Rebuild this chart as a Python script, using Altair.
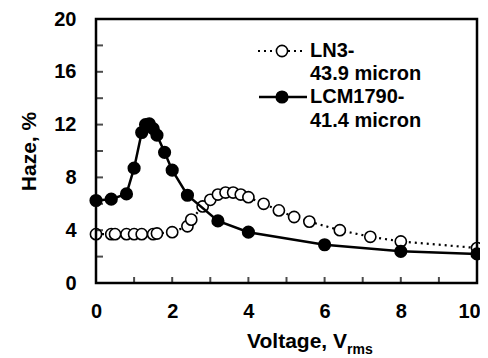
import altair as alt
import pandas as pd

# LN3 - 43.9 micron (open circles, dotted line)
ln3_v = [0, 0.4, 0.5, 0.8, 1.0, 1.2, 1.5, 1.6, 2.0, 2.4, 2.5, 2.8, 3.0, 3.2, 3.4,
         3.6, 3.8, 4.0, 4.4, 4.8, 5.2, 5.6, 6.4, 7.2, 8.0, 10.0]
ln3_h = [3.7, 3.7, 3.7, 3.7, 3.7, 3.7, 3.7, 3.75, 3.85, 4.3, 4.8, 5.8, 6.3, 6.7, 6.85,
         6.85, 6.7, 6.5, 6.0, 5.5, 5.0, 4.65, 4.0, 3.5, 3.15, 2.65]
# LCM1790 - 41.4 micron (filled circles, solid line)
lcm_v = [0, 0.4, 0.8, 1.0, 1.2, 1.3, 1.4, 1.5, 1.6, 1.8, 2.0, 2.4, 3.2, 4.0, 6.0, 8.0, 10.0]
lcm_h = [6.25, 6.35, 6.75, 8.7, 11.4, 12.0, 12.05, 11.7, 11.2, 9.9, 8.55, 6.65, 4.7, 3.85,
         2.9, 2.4, 2.2]

x_ticks = [0, 1, 2, 3, 4, 5, 6, 7, 8, 9, 10]
x_labels = [0, 2, 4, 6, 8, 10]
y_ticks = [0, 2, 4, 6, 8, 10, 12, 14, 16, 18, 20]
y_labels = [0, 4, 8, 12, 16, 20]
legend_labels = ["LN3-", "43.9 micron", "LCM1790-", "41.4 micron"]

W, H = 381, 264
FONT = "Liberation Sans"

ln3 = pd.DataFrame({"v": ln3_v, "h": ln3_h})
lcm = pd.DataFrame({"v": lcm_v, "h": lcm_h})
xt = pd.DataFrame({"v": x_ticks})
yt = pd.DataFrame({"h": y_ticks})

xs = alt.Scale(domain=[0, 10], nice=False, zero=False)
ys = alt.Scale(domain=[0, 20], nice=False, zero=False)

xaxis = alt.Axis(values=x_labels, ticks=False, tickSize=0, domain=False, grid=False,
                 labelFont=FONT, labelFontSize=20, labelFontWeight="bold", labelColor="black",
                 labelPadding=18, title=None, labelFlush=False,
                 labelOffset={"condition": {"test": "datum.value == 10", "value": -8}, "value": 0})
yaxis = alt.Axis(values=y_labels, ticks=False, tickSize=0, domain=False, grid=False,
                 labelFont=FONT, labelFontSize=20, labelFontWeight="bold", labelColor="black",
                 labelPadding=20, title="Haze, %", titleFont=FONT, titleFontSize=21,
                 titleFontWeight="bold", titleColor="black", titlePadding=14)

X = alt.X("v:Q", scale=xs, axis=xaxis)
Y = alt.Y("h:Q", scale=ys, axis=yaxis)

ln3_line = alt.Chart(ln3).mark_line(color="black", strokeWidth=2.2, strokeDash=[2, 4]).encode(x=X, y=Y)
ln3_pts = alt.Chart(ln3).mark_point(shape="circle", size=125, filled=True, fill="white",
                                    stroke="black", strokeWidth=1.6, opacity=1).encode(x=X, y=Y)
lcm_line = alt.Chart(lcm).mark_line(color="black", strokeWidth=2.5).encode(x=X, y=Y)
lcm_pts = alt.Chart(lcm).mark_point(shape="circle", size=125, filled=True, fill="black",
                                    stroke="black", opacity=1).encode(x=X, y=Y)

xtick = alt.Chart(xt).mark_tick(color="black", thickness=2, size=6, orient="vertical").encode(
    x=alt.X("v:Q", scale=xs), y=alt.value(H - 3))
ytick = alt.Chart(yt).mark_tick(color="black", thickness=2, size=7, orient="horizontal").encode(
    y=alt.Y("h:Q", scale=ys), x=alt.value(3.5))

one = pd.DataFrame({"a": [0]})
frame = alt.Chart(one).mark_rect(
    fill=None, fillOpacity=0, stroke="black", strokeWidth=2.5).encode(
    x=alt.value(0), x2=alt.value(W), y=alt.value(0), y2=alt.value(H))

# x axis title with subscript
t1 = alt.Chart(one).mark_text(
    text="Voltage, V", font=FONT, fontSize=21, fontWeight="bold", align="right",
    baseline="alphabetic", color="black"
).encode(x=alt.value(251), y=alt.value(329))
t2 = alt.Chart(one).mark_text(
    text="rms", font=FONT, fontSize=14, fontWeight="bold", align="left",
    baseline="alphabetic", color="black"
).encode(x=alt.value(251), y=alt.value(335))

# legend
leg_ln3_line = alt.Chart(one).mark_rule(
    color="black", strokeWidth=2.2, strokeDash=[2, 4]).encode(
    x=alt.value(162), x2=alt.value(208), y=alt.value(32))
leg_ln3_pt = alt.Chart(one).mark_point(
    shape="circle", size=125, filled=True, fill="white", stroke="black", strokeWidth=1.6, opacity=1
).encode(x=alt.value(186), y=alt.value(32))
leg_lcm_line = alt.Chart(one).mark_rule(
    color="black", strokeWidth=2.5).encode(x=alt.value(163), x2=alt.value(211), y=alt.value(78))
leg_lcm_pt = alt.Chart(one).mark_point(
    shape="circle", size=125, filled=True, fill="black", stroke="black", opacity=1
).encode(x=alt.value(186), y=alt.value(78))

leg_txt = [
    alt.Chart(one).mark_text(
        text=lab, font=FONT, fontSize=20, fontWeight="bold", align="left",
        baseline="middle", color="black"
    ).encode(x=alt.value(214), y=alt.value(yy))
    for lab, yy in zip(legend_labels, [32, 55, 78, 102])
]

chart = alt.layer(
    ln3_line, ln3_pts, lcm_line, lcm_pts, xtick, ytick, frame, t1, t2,
    leg_ln3_line, leg_ln3_pt, leg_lcm_line, leg_lcm_pt, *leg_txt
).properties(
    width=W, height=H,
    autosize=alt.AutoSizeParams(type="none"),
    padding={"left": 88, "top": 11, "right": 3, "bottom": 75},
).configure_view(stroke=None).configure(background="white")

chart.save("out.html", embed_options={"renderer": "svg", "actions": False})
